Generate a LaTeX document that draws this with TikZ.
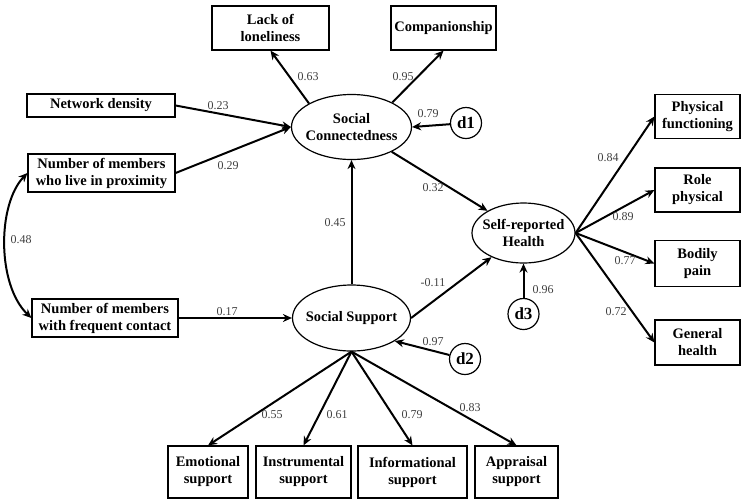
\documentclass[tikz,border=0pt]{standalone}
\usepackage{fontspec}
\setmainfont{Liberation Serif}
\usetikzlibrary{positioning, arrows.meta, shapes.geometric}

\begin{document}
\begin{tikzpicture}[x=1pt, y=-1pt,
    >={Stealth[length=9pt, width=8pt]},
    box/.style={draw, line width=1.2pt, align=center, inner sep=0pt,
        font=\fontsize{14.5}{17}\selectfont\bfseries},
    latent/.style={draw, ellipse, line width=1.2pt, align=center, inner sep=-10pt,
        font=\fontsize{14.5}{17}\selectfont\bfseries},
    err/.style={draw, circle, line width=1.2pt, minimum size=31pt, inner sep=0pt,
        font=\fontsize{17}{17}\selectfont\bfseries},
    link/.style={->, line width=2pt},
    coef/.style={inner sep=0pt, text=black!75, font=\fontsize{12}{12}\selectfont}]
    \useasboundingbox (0,0) rectangle (741,499);

    % Latent variables
    \node[latent, minimum width=120pt, minimum height=65pt] (sc) at (351.5,127) {Social\\Connectedness};
    \node[latent, minimum width=118pt, minimum height=66pt] (ss) at (351.5,318) {Social Support};
    \node[latent, minimum width=103pt, minimum height=60pt] (srh) at (523.5,233) {Self-reported\\Health};

    % Disturbances
    \node[err] (d1) at (466,123) {d1};
    \node[err] (d2) at (465,359) {d2};
    \node[err] (d3) at (523.5,314) {d3};

    % Indicators of social connectedness
    \node[box, minimum width=117pt, minimum height=44pt] (lack) at (270.5,28) {Lack of\\loneliness};
    \node[box, minimum width=105pt, minimum height=44pt] (comp) at (443.5,28) {Companionship};

    % Network variables (left side)
    \node[box, minimum width=148pt, minimum height=23pt] (netd) at (101,105.5) {Network density};
    \node[box, minimum width=147pt, minimum height=38pt] (prox) at (101.5,173) {Number of members\\who live in proximity};
    \node[box, minimum width=146pt, minimum height=38pt] (freq) at (105,318) {Number of members\\with frequent contact};

    % Health indicators (right side)
    \node[box, minimum width=85pt, minimum height=44pt] (phys) at (697.5,116.5) {Physical\\functioning};
    \node[box, minimum width=85pt, minimum height=44pt] (role) at (697.5,190) {Role\\physical};
    \node[box, minimum width=85pt, minimum height=46pt] (pain) at (697.5,263.5) {Bodily\\pain};
    \node[box, minimum width=85pt, minimum height=45pt] (gen) at (697.5,342.5) {General\\health};

    % Support indicators (bottom)
    \node[box, minimum width=80pt, minimum height=52pt] (emo) at (208,472) {Emotional\\support};
    \node[box, minimum width=95pt, minimum height=52pt] (instr) at (303.5,472) {Instrumental\\support};
    \node[box, minimum width=109pt, minimum height=52pt] (info) at (412.5,472) {Informational\\support};
    \node[box, minimum width=83pt, minimum height=52pt] (appr) at (516.5,472) {Appraisal\\support};

    % Paths
    \draw[link] (sc.151) -- (lack.south);
    \draw[link] (sc.31) -- (comp.south);
    \draw[link] (netd.east) -- (sc.west);
    \draw[link] (prox.east) -- (sc.west);
    \draw[link] (d1) -- (sc.east);
    \draw[link] (ss.north) -- (sc.south);
    \draw[link] (freq.east) -- (ss.west);
    \draw[link] (d2) -- (ss.-28);
    \draw[link] (sc) -- (srh);
    \draw[link] (ss.east) -- (srh);
    \draw[link] (d3) -- (srh.south);
    \draw[<->, line width=2pt] (prox.west) .. controls (-3,205) and (-3,285) .. (freq.west);

    % Loadings
    \draw[link] (srh.east) -- (phys.west);
    \draw[link] (srh.east) -- (role.west);
    \draw[link] (srh.east) -- (pain.west);
    \draw[link] (srh.east) -- (gen.west);
    \draw[link] (ss.south) -- (emo.north);
    \draw[link] (ss.south) -- (instr.north);
    \draw[link] (ss.south) -- (info.north);
    \draw[link] (ss.south) -- (appr.north);

    % Coefficients
    \node[coef] (cLack) at (308,77) {0.63};
    \node[coef] (cComp) at (403,77) {0.95};
    \node[coef] (cNetd) at (218,106) {0.23};
    \node[coef] (cProx) at (228,166) {0.29};
    \node[coef] (cDa) at (428,114) {0.79};
    \node[coef] (cSc) at (433,188) {0.32};
    \node[coef] (cSs) at (335,223) {0.45};
    \node[coef] (cCov) at (21,240) {0.48};
    \node[coef] (cPhys) at (608,158) {0.84};
    \node[coef] (cRole) at (623,217) {0.89};
    \node[coef] (cPain) at (625,261) {0.77};
    \node[coef] (cGen) at (616,312) {0.72};
    \node[coef] (cDc) at (543,290) {0.96};
    \node[coef] (cSsh) at (433,283) {-0.11};
    \node[coef] (cDb) at (433,342) {0.97};
    \node[coef] (cFreq) at (227,312) {0.17};
    \node[coef] (cEmo) at (272,415) {0.55};
    \node[coef] (cInstr) at (337,415) {0.61};
    \node[coef] (cInfo) at (412,415) {0.79};
    \node[coef] (cAppr) at (470,408) {0.83};
\end{tikzpicture}
\end{document}
